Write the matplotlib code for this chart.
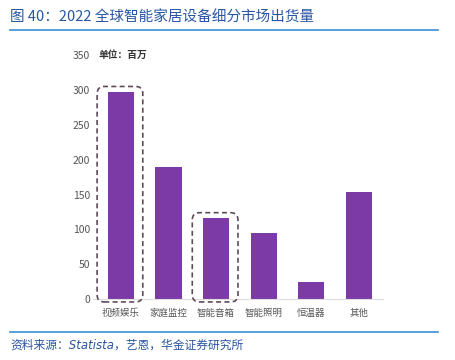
import matplotlib.pyplot as plt
from matplotlib.patches import FancyBboxPatch

plt.rcParams["font.family"] = ["Noto Sans CJK SC", "DejaVu Sans"]

categories = ["视频娱乐", "家庭监控", "智能音箱", "智能照明", "恒温器", "其他"]
shipments = [297, 189, 116, 95, 24, 154]
highlighted = [0, 2]

fig = plt.figure(figsize=(4.55, 3.6), dpi=100)
ax = fig.add_axes([0.204, 0.169, 0.637, 0.678])

x = range(len(categories))
ax.bar(x, shipments, width=0.55, color="#7b3aa6", zorder=2)

# dashed rounded boxes round highlighted bars
for i in highlighted:
    box = FancyBboxPatch((i - 0.5, -4), 0.96, shipments[i] + 12,
                         boxstyle="round,pad=0,rounding_size=0.15",
                         mutation_aspect=68, fill=False, ls=(0, (3, 2)),
                         lw=1.2, ec="#5e4b5a", zorder=3, clip_on=False)
    ax.add_patch(box)

ax.set_xlim(-0.59, 5.5)
ax.set_ylim(0, 350)
ax.set_yticks(range(0, 351, 50))
ax.set_xticks(list(x))
ax.set_xticklabels(categories)
ax.tick_params(axis="both", length=0, colors="#555555")
ax.tick_params(axis="x", pad=7, labelsize=6.8)
ax.tick_params(axis="y", pad=2, labelsize=7.5)
for side in ["top", "right", "left"]:
    ax.spines[side].set_visible(False)
ax.spines["bottom"].set_color("#dddddd")
ax.spines["bottom"].set_linewidth(0.8)

ax.text(0.02, 1.0, "单位：百万", transform=ax.transAxes, fontsize=7,
        color="#333333", fontweight="bold", va="center")

fig.text(0.022, 0.952, "图 40：2022 全球智能家居设备细分市场出货量",
         fontsize=10.5, color="#2856a3", va="center", fontweight="light")
fig.add_artist(plt.Line2D([0.022, 0.963], [0.917, 0.917],
                          color="#3b8fd6", lw=1.2))
fig.add_artist(plt.Line2D([0.022, 0.963], [0.078, 0.078],
                          color="#3b8fd6", lw=1.2))
fig.text(0.022, 0.042, "资料来源：Statista，艺恩，华金证券研究所",
         fontsize=8.5, color="#2a55a0", style="italic", va="center",
         family=["DejaVu Sans", "Noto Sans CJK SC"])

fig.savefig("out.png", dpi=100)
